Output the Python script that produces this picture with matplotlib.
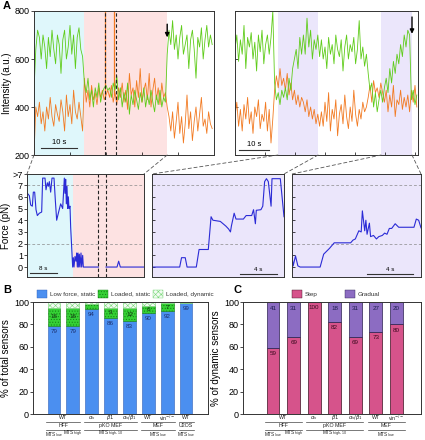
import numpy as np
import matplotlib
matplotlib.use('Agg')
import matplotlib.pyplot as plt
from matplotlib.patches import Rectangle, ConnectionPatch

plt.rcParams['font.family'] = ['Liberation Sans', 'DejaVu Sans']
plt.rcParams['hatch.linewidth'] = 0.4
plt.rcParams['axes.linewidth'] = 0.7
plt.rcParams['axes.edgecolor'] = '#333333'

# -----------------------------------------------------------------------------
# DATA

# panel A, left trace (dt = 0.5 s)
dt_left = 0.5
green_left = [470, 640, 720, 690, 600, 700, 650, 560, 690, 610, 720, 640, 580, 700,
              660, 540, 680, 720, 600, 650, 740, 620, 700, 560, 690, 730, 640, 610,
              500, 460, 520, 430, 470, 400, 480, 440, 500, 420, 460, 480, 490, 470,
              480, 440, 500, 470, 530, 430, 480, 400, 460, 420, 500, 370, 450, 410,
              470, 430, 390, 460, 420, 480, 400, 450, 410, 470, 420, 380, 450, 410,
              470, 400, 440, 420,
              620, 720, 660, 760, 640, 700, 600, 690, 740, 620, 660, 700, 560, 680,
              720, 640, 520, 690, 650, 730, 600, 680, 740, 650, 700, 660]
orange_left = [200, 400, 360, 420, 330, 380, 300, 400, 350, 440, 360, 320, 410, 370,
               340, 430, 380, 300, 450, 360, 410, 330, 470, 380, 350, 420, 360, 300,
               520, 420, 470, 400, 490, 430, 460, 410, 480, 440, 470, 430, 450, 470,
               440, 490, 420, 460, 410, 480, 440, 500, 420, 470, 390, 540, 450, 480,
               400, 510, 440, 560, 420, 470, 500, 430, 540, 400, 470, 520, 430, 480,
               410, 500, 440, 460,
               400, 360, 300, 380, 270, 340, 420, 290, 360, 250, 330, 450, 310, 380,
               260, 340, 400, 300, 370, 440, 320, 350, 290, 380, 330, 310]
# short orange bursts that leave the intensity range
orange_burst_t = [19.7, 22.3]
orange_burst_base = [440, 450]
dashed_left_t = [19.7, 22.8]

# panel A, right trace (dt = 0.6 s)
dt_right = 0.6
green_right = [640, 700, 590, 680, 620, 740, 560, 690, 650, 710, 600, 670, 550, 700,
               630, 720, 580, 660, 700, 620, 690, 800,
               500, 430, 460, 410, 470, 440,
               480, 430, 520, 470, 560,
               600, 640, 560, 690, 620,
               700, 620, 770, 650, 720, 600, 680, 640, 700, 610,
               680, 600, 650, 560, 690, 620, 660, 580, 700, 640, 610, 680, 550, 650,
               700, 600, 660, 630, 690, 580, 640, 760, 600, 650, 570, 620,
               540, 470, 500, 400, 460, 380, 430, 470, 420,
               480, 520, 460, 560, 500, 590, 540, 620, 580, 660, 610, 700, 650, 720,
               700, 430, 470, 410, 450]
orange_right = [360, 420, 320, 390, 300, 410, 350, 440, 330, 380, 290, 400, 360, 430,
                310, 370, 340, 420, 300, 390, 250, 350,
                470, 530, 480, 560, 490, 520,
                470, 540, 450, 500, 430,
                470, 410, 450, 400, 440,
                420, 380, 430, 360, 400, 350, 390, 330, 370, 320,
                380, 320, 420, 340, 460, 300, 390, 350, 430, 280, 370, 410, 330, 450,
                360, 310, 400, 340, 470, 370, 320, 390, 350, 420, 380, 400,
                440, 490, 420, 510, 460, 480, 440, 500, 460,
                420, 470, 380, 450, 400, 490, 360, 430, 410, 470, 390, 440, 400, 450,
                380, 470, 420, 490, 400]

# force traces (time in s, force in pN; 7.6 = above 7 pN)
force1_t = [0.1, 0.7, 1.1, 1.6, 1.9, 2.3, 2.7, 3.1, 3.7, 4.4, 4.7, 5.4, 5.7, 6.1,
            6.4, 6.7, 7.1, 7.5, 8.1, 8.5, 8.9, 9.4, 10.1, 10.7, 11.2, 11.4, 11.6,
            11.8, 12.0, 12.2, 12.4, 12.6, 12.9, 13.1, 13.4, 13.7, 13.9, 14.1, 14.4,
            14.7, 14.9, 15.1, 15.3, 15.5, 15.7, 15.9, 16.2, 16.4, 16.7, 16.9, 21.4,
            21.5, 23.6, 23.7, 27.0, 27.5, 28.0, 35.1]
force1_f = [6.3, 6.1, 5.3, 5.2, 6.4, 6.4, 4.9, 4.4, 4.6, 4.7, 7.6, 7.6, 6.6, 7.2,
            6.9, 7.3, 6.4, 7.6, 7.6, 5.7, 4.0, 4.6, 5.4, 5.0, 7.6, 6.3, 7.5,
            5.4, 6.9, 5.0, 6.0, 5.0, 5.2, 3.4, 1.7, 0.0, 0.8, 0.0, 0.9,
            0.5, 1.2, 0.0, 1.2, 0.0, 1.1, 0.0, 1.2, 0.0, 1.0, 0.0, 0.0,
            np.nan, np.nan, 0.0, 0.0, 0.5, 0.0, 0.0]
force2_t = [0.0, 3.0, 3.2, 3.6, 3.8, 4.8, 5.1, 6.1, 6.4, 6.6, 7.4, 8.0, 8.3, 8.5,
            8.6, 8.9, 9.1, 9.9, 10.2, 10.8, 11.0, 11.2, 11.3, 11.8, 12.0, 12.2,
            12.4, 12.6, 12.9, 13.0, 13.9, 14.3]
force2_f = [0.0, 0.0, 0.8, 0.8, 0.0, 0.0, 1.5, 1.5, 4.3, 4.0, 3.9, 3.5, 3.25, 3.0,
            3.5, 4.6, 4.1, 4.1, 4.4, 4.4, 4.9, 3.7, 4.85, 4.9, 5.2, 7.3,
            7.55, 7.3, 5.2, 7.55, 7.55, 4.3]
force3_t = [0.0, 0.1, 0.3, 0.5, 0.7, 2.4, 2.7, 3.0, 3.2, 3.6, 5.0, 5.2, 5.4, 5.7,
            5.9, 6.0, 6.2, 6.3, 6.4, 6.6, 6.7, 6.95, 7.2, 7.4, 7.7, 7.9, 8.1, 8.3,
            8.5, 8.8, 9.1, 10.4, 10.6, 10.8, 11.0]
force3_f = [0.95, 0.1, 0.95, 0.1, 0.0, 0.0, 1.1, 1.4, 1.6, 2.07, 2.07, 2.3, 2.4, 3.1,
            3.0, 4.8, 3.1, 4.0, 2.8, 3.75, 2.6, 2.7, 2.4, 2.6, 2.7, 2.9, 2.8, 3.3,
            3.3, 3.7, 3.4, 3.4, 4.1, 4.0, 3.35]

force_ticks = [0, 1, 2, 3, 4, 5, 6, 7, 7.95]
force_ticklabels = ['0', '1', '2', '3', '4', '5', '6', '7', '>7']

# panel B
b_row1 = ['WT', r'$\alpha_\mathrm{v}$', r'$\beta1$', r'$\alpha_\mathrm{v}/\beta_1$',
          'WT', r'vin$^{-/-}$', 'WT']
b_row1_pos = [0.5, 2, 3, 4, 5, 6, 7]
low_static = np.array([79, 79, 94, 86, 83, 90, 92, 99])
loaded_static = np.array([16, 16, 4, 9, 12, 6, 7, 0.5])
loaded_dynamic = np.array([5, 5, 2, 5, 5, 4, 1, 0.5])
b_groups = [('HFF', 0, 1), ('pKO MEF', 2, 4), ('MEF', 5, 6), ('U2OS', 7, 7)]
b_mts = [(r'MTS$_\mathrm{low}$', 0), (r'MTS$_\mathrm{high}$', 1),
         (r'MTS$_\mathrm{high,10}$', 3), (r'MTS$_\mathrm{low}$', 5.5),
         (r'MTS$_\mathrm{low}$', 7)]

# panel C
step = np.array([59, 69, 100, 82, 69, 73, 80])
gradual = np.array([41, 31, 0, 18, 31, 27, 20])
c_row1 = b_row1[:-1]
c_row1_pos = b_row1_pos[:-1]
c_groups = b_groups[:-1]
c_mts = b_mts[:-1]

# -----------------------------------------------------------------------------
# LAYOUT (pixel boxes of the 425 x 440 reference)

W, H = 425, 440


def box(x0, y0, x1, y1):
    return [x0 / W, 1 - y1 / H, (x1 - x0) / W, (y1 - y0) / H]


c_cyan = '#dff7fb'
c_pink = '#fde2e2'
c_lav = '#ebe6fb'
c_green = '#5fcc1a'
c_orange = '#f27a22'
c_force = '#2b2bd6'

fig = plt.figure(figsize=(4.25, 4.4), dpi=100)

axA1 = fig.add_axes(box(34, 11, 214, 155))
axA2 = fig.add_axes(box(235, 11, 418, 155))
axF1 = fig.add_axes(box(27, 174, 144, 277))
axF2 = fig.add_axes(box(152, 174, 284, 277))
axF3 = fig.add_axes(box(292, 174, 421, 277))
axB = fig.add_axes(box(33, 302, 208, 414))
axC = fig.add_axes(box(243, 302, 421, 414))

# -----------------------------------------------------------------------------
# A: intensity traces

t_left = np.arange(len(green_left)) * dt_left
t_right = np.arange(len(green_right)) * dt_right

axA1.axvspan(0, 13.9, color=c_cyan, lw=0)
axA1.axvspan(13.9, 37, color=c_pink, lw=0)
axA2.axvspan(14.3, 27.7, color=c_lav, lw=0)
axA2.axvspan(48.7, 59.0, color=c_lav, lw=0)

axA1.plot(t_left, orange_left, color=c_orange, lw=0.6)
axA1.vlines(orange_burst_t, orange_burst_base, 800, color=c_orange, lw=0.9)
axA1.plot(t_left, green_left, color=c_green, lw=0.6)
axA2.plot(t_right, orange_right, color=c_orange, lw=0.6)
axA2.plot(t_right, green_right, color=c_green, lw=0.6)

for tt in dashed_left_t:
    axA1.axvline(tt, color='#222222', ls=(0, (3, 2)), lw=0.8)

for ax, tmax in ((axA1, 50), (axA2, 61)):
    ax.set_xlim(0, tmax)
    ax.set_ylim(200, 800)
    ax.set_yticks([200, 400, 600, 800])
    ax.set_xticks(np.arange(10, tmax, 10))
    ax.tick_params(axis='x', direction='in', length=2, width=0.5,
                   labelbottom=False)
axA1.tick_params(axis='y', direction='out', length=2, width=0.5,
                 labelsize=6.5, pad=1)
axA2.tick_params(axis='y', direction='in', length=2, width=0.5,
                 labelleft=False)
axA1.set_ylabel('Intensity (a.u.)', fontsize=7, labelpad=2)

axA1.annotate('', xy=(37, 690), xytext=(37, 745),
              arrowprops=dict(arrowstyle='-|>', color='k', lw=1,
                              mutation_scale=6, shrinkA=0, shrinkB=0))
axA2.annotate('', xy=(59, 705), xytext=(59, 775),
              arrowprops=dict(arrowstyle='-|>', color='k', lw=1,
                              mutation_scale=6, shrinkA=0, shrinkB=0))

axA1.plot([1.9, 11.9], [229, 229], color='#333333', lw=0.8)
axA1.text(6.9, 236, '10 s', fontsize=5.5, ha='center', va='bottom')
axA2.plot([1.3, 11.3], [221, 221], color='#333333', lw=0.8)
axA2.text(6.3, 228, '10 s', fontsize=5.5, ha='center', va='bottom')

# -----------------------------------------------------------------------------
# A: force traces

axF1.axvspan(0, 13.7, color=c_cyan, lw=0)
axF1.axvspan(13.7, 35.1, color=c_pink, lw=0)
axF2.set_facecolor(c_lav)
axF3.set_facecolor(c_lav)
for tt in (21.4, 23.7):
    axF1.axvline(tt, color='#222222', ls=(0, (3, 2)), lw=0.8)

for ax, t, f, tmax in ((axF1, force1_t, force1_f, 35.1),
                       (axF2, force2_t, force2_f, 14.3),
                       (axF3, force3_t, force3_f, 11.0)):
    for lev in (2, 7):
        ax.axhline(lev, color='#8a8a8a', ls=(0, (4, 3)), lw=0.5)
    ax.plot(t, f, color=c_force, lw=0.8)
    ax.set_xlim(0, tmax)
    ax.set_ylim(-0.85, 7.95)
    ax.set_xticks([])
    ax.set_yticks(force_ticks)
axF1.set_yticklabels(force_ticklabels)
axF1.tick_params(axis='y', direction='out', length=2, width=0.5,
                 labelsize=6.5, pad=1)
axF1.set_ylabel('Force (pN)', fontsize=7, labelpad=1)
for ax in (axF2, axF3):
    ax.tick_params(axis='y', direction='in', length=2, width=0.5,
                   labelleft=False)

axF1.plot([0.9, 8.9], [-0.5, -0.5], color='#333333', lw=0.8)
axF1.text(4.9, -0.35, '8 s', fontsize=4.5, ha='center', va='bottom')
axF2.plot([9.5, 13.5], [-0.6, -0.6], color='#333333', lw=0.8)
axF2.text(11.5, -0.45, '4 s', fontsize=4.5, ha='center', va='bottom')
axF3.plot([6.4, 10.3], [-0.6, -0.6], color='#333333', lw=0.8)
axF3.text(8.35, -0.45, '4 s', fontsize=4.5, ha='center', va='bottom')

# zoom connectors
links = [(axA1, 0, axF1, 0), (axA1, 37, axF1, 1),
         (axA2, 14.3, axF2, 0), (axA2, 27.7, axF2, 1),
         (axA2, 48.7, axF3, 0), (axA2, 59.0, axF3, 1)]
for a_top, tt, a_bot, fx in links:
    con = ConnectionPatch(xyA=(tt, 200), coordsA=a_top.transData,
                          xyB=(fx, 1), coordsB=a_bot.transAxes,
                          color='#555555', lw=0.6, ls=(0, (4, 3)))
    fig.add_artist(con)

# -----------------------------------------------------------------------------
# B and C: stacked bars


def group_labels(ax, row1, row1_pos, groups, mts):
    tr = ax.get_xaxis_transform()
    kw = dict(transform=tr, fontsize=3.8, ha='center', va='center',
              clip_on=False, color='#222222')
    for lab, xp in zip(row1, row1_pos):
        ax.text(xp, -0.035, lab, **kw)
    for name, g0, g1 in groups:
        ax.plot([g0 - 0.4, g1 + 0.4], [-0.07, -0.07], transform=tr,
                color='#444444', lw=0.5, clip_on=False)
        ax.text((g0 + g1) / 2, -0.105, name, **kw)
        ax.plot([g0 - 0.4, g1 + 0.4], [-0.14, -0.14], transform=tr,
                color='#444444', lw=0.5, clip_on=False)
    kw['fontsize'] = 3.4
    for lab, xp in mts:
        ax.text(xp, -0.18, lab, **kw)


xb = np.arange(len(low_static))
axB.bar(xb, low_static, width=0.66, color='#4b8ff0', edgecolor='#2f5fb8',
        lw=0.4)
axB.bar(xb, loaded_static, width=0.66, bottom=low_static, color='#35d035',
        hatch='......', edgecolor='#138013', lw=0.4)
axB.bar(xb, loaded_dynamic, width=0.66, bottom=low_static + loaded_static,
        color='#f2fbf2', hatch='xxxxxx', edgecolor='#78d878', lw=0.4)
for i in xb:
    axB.text(i, low_static[i] - 5, '%d' % low_static[i], fontsize=4.5,
             ha='center', va='center', color='#1c2f6e')
    if loaded_static[i] >= 5:
        axB.text(i, low_static[i] + loaded_static[i] / 2,
                 '%d' % loaded_static[i], fontsize=4.5, ha='center',
                 va='center', color='#143014')
axB.set_xlim(-1.1, 8.15)
axB.set_ylim(0, 100)
axB.set_xticks([])
axB.set_yticks(np.arange(0, 101, 20))
axB.tick_params(axis='y', direction='out', length=2, width=0.5,
                labelsize=6.5, pad=1)
axB.set_ylabel('% of total sensors', fontsize=7, labelpad=2)
group_labels(axB, b_row1, b_row1_pos, b_groups, b_mts)

xc = np.arange(len(step))
axC.bar(xc, step, width=0.63, color='#d6538b', edgecolor='#3a1020', lw=0.5)
axC.bar(xc, gradual, width=0.63, bottom=step, color='#8c6cc2',
        edgecolor='#2a2050', lw=0.5)
for i in xc:
    axC.text(i, step[i] - 5, '%d' % step[i], fontsize=4.5, ha='center',
             va='center', color='#3a0a1e')
    if gradual[i] > 0:
        axC.text(i, 94, '%d' % gradual[i], fontsize=4.5, ha='center',
                 va='center', color='#1c1c4e')
axC.set_xlim(-1.46, 7.2)
axC.set_ylim(0, 100)
axC.set_xticks([])
axC.set_yticks(np.arange(0, 101, 20))
axC.tick_params(axis='y', direction='out', length=2, width=0.5,
                labelsize=6.5, pad=1)
axC.set_ylabel('% of dynamic sensors', fontsize=7, labelpad=2)
group_labels(axC, c_row1, c_row1_pos, c_groups, c_mts)

# legends drawn as small squares in figure pixels
legend_items = [(37, '#4b8ff0', None, '#2f5fb8', 'Low force, static'),
                (98, '#35d035', '......', '#138013', 'Loaded, static'),
                (153, '#f2fbf2', 'xxxxxx', '#78d878', 'Loaded, dynamic'),
                (292, '#d6538b', None, '#3a1020', 'Step'),
                (345, '#8c6cc2', None, '#2a2050', 'Gradual')]
for x0, fc, hatch, ec, lab in legend_items:
    fig.add_artist(Rectangle((x0 / W, 1 - 298 / H), 10 / W, 8 / H,
                             transform=fig.transFigure, facecolor=fc,
                             hatch=hatch, edgecolor=ec, lw=0.3))
    fig.text((x0 + 13) / W, 1 - 294 / H, lab, fontsize=4.5, va='center',
             ha='left', color='#333333')

# panel letters
for lab, x0, y0 in (('A', 3, 6), ('B', 3, 290), ('C', 233, 290)):
    fig.text(x0 / W, 1 - y0 / H, lab, fontsize=8, fontweight='bold',
             va='center', ha='left')

fig.savefig('out.png', dpi=100)
